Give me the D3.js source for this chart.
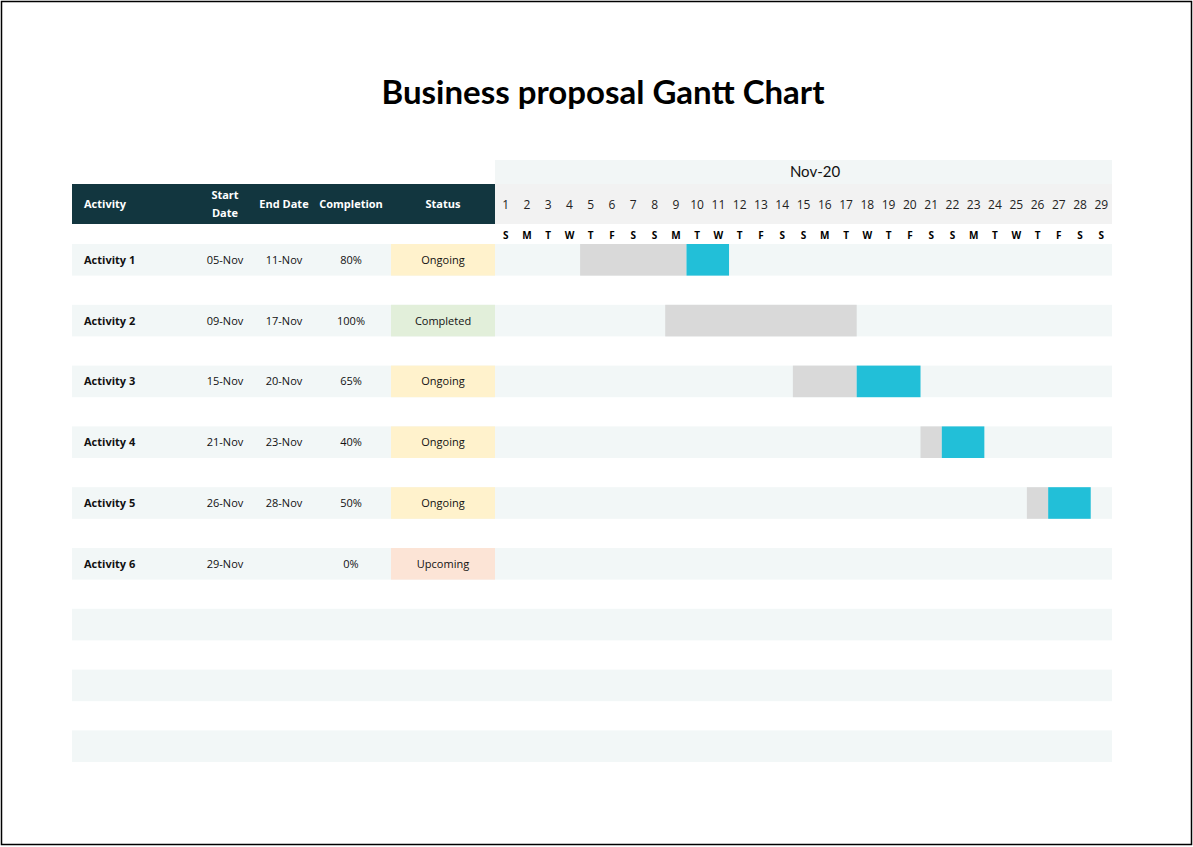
<!DOCTYPE html>
<html><head><meta charset="utf-8">
<script src="https://cdn.jsdelivr.net/npm/d3@7"></script>
<style>body{margin:0;background:#fff}</style>
</head><body>
<script>
// data
const activities = ['Activity 1', 'Activity 2', 'Activity 3', 'Activity 4', 'Activity 5', 'Activity 6']
const startDates = ['05-Nov', '09-Nov', '15-Nov', '21-Nov', '26-Nov', '29-Nov']
const endDates = ['11-Nov', '17-Nov', '20-Nov', '23-Nov', '28-Nov', '']
const completion = ['80%', '100%', '65%', '40%', '50%', '0%']
const statuses = ['Ongoing', 'Completed', 'Ongoing', 'Ongoing', 'Ongoing', 'Upcoming']
const startDay = [5, 9, 15, 21, 26, null]
const endDay = [11, 17, 20, 23, 28, null]
const doneUntil = [9, 17, 17, 21, 26, null] // last day drawn grey
const days = d3.range(1, 30)
const weekdays = ['S','M','T','W','T','F','S']
const emptyRows = 3

const W = 1193, H = 847
const svg = d3.select('body').append('svg').attr('width', W).attr('height', H)
svg.append('rect').attr('x', 1.5).attr('y', 1.5).attr('width', W - 3).attr('height', H - 4)
    .attr('fill', '#fff').attr('stroke', '#000').attr('stroke-width', 1.5)

svg.append('text').attr('x', 603).attr('y', 104).attr('text-anchor', 'middle')
    .style('font', 'bold 33px Lato').text('Business proposal Gantt Chart')

const font = '11px "Open Sans"'
const statusColor = {Ongoing: '#fff2cc', Completed: '#e2efda', Upcoming: '#fce4d6'}

// time scale
const x = d3.scaleLinear().domain([1, 30]).range([495, 1112])
const y = d3.scaleBand().domain(d3.range(activities.length + emptyRows)).range([244, 762]).paddingInner(0.48).paddingOuter(0)

// header
svg.append('rect').attr('x', 495).attr('y', 160).attr('width', 617).attr('height', 24).attr('fill', '#f2f6f6')
svg.append('text').attr('x', 815).attr('y', 177).attr('text-anchor', 'middle').style('font', '15px Lato').attr('fill', '#111').text('Nov-20')
svg.append('rect').attr('x', 72).attr('y', 184).attr('width', 423).attr('height', 40).attr('fill', '#12363f')
svg.append('rect').attr('x', 495).attr('y', 184).attr('width', 617).attr('height', 40).attr('fill', '#f2f2f2')

const cols = [
    {label: ['Activity'], x: 84, anchor: 'start'},
    {label: ['Start', 'Date'], x: 225},
    {label: ['End Date'], x: 284},
    {label: ['Completion'], x: 351},
    {label: ['Status'], x: 443}
]
cols.forEach(c => {
    const t = svg.append('text').attr('x', c.x).attr('text-anchor', c.anchor || 'middle')
        .style('font', 'bold 11px "Open Sans"').attr('fill', '#fff')
    c.label.forEach((l, i) => t.append('tspan').attr('x', c.x)
        .attr('y', c.label.length === 1 ? 208 : 199 + i * 18).text(l))
})

svg.selectAll('.day').data(days).join('text')
    .attr('x', d => x(d + 0.5)).attr('y', 209).attr('text-anchor', 'middle')
    .style('font', '12px "Open Sans"').attr('fill', '#222').text(d => d)
svg.selectAll('.wd').data(days).join('text')
    .attr('x', d => x(d + 0.5)).attr('y', 239).attr('text-anchor', 'middle')
    .style('font', 'bold 10px "Open Sans"').attr('fill', '#000').text((d, i) => weekdays[i % 7])

// rows
const rows = svg.selectAll('.row').data(y.domain()).join('g').attr('transform', i => `translate(0,${y(i)})`)
rows.append('rect').attr('x', 72).attr('width', 1040).attr('height', y.bandwidth()).attr('fill', '#f2f7f7')

const real = rows.filter(i => i < activities.length)
real.append('rect').attr('x', 391).attr('width', 104).attr('height', y.bandwidth()).attr('fill', i => statusColor[statuses[i]])
const cell = (xp, f, bold, anchor) => real.append('text').attr('x', xp).attr('y', y.bandwidth() / 2 + 4)
    .attr('text-anchor', anchor || 'middle').style('font', (bold ? 'bold ' : '') + font).attr('fill', '#111').text(f)
cell(84, i => activities[i], true, 'start')
cell(225, i => startDates[i])
cell(284, i => endDates[i])
cell(351, i => completion[i])
cell(443, i => statuses[i])

real.filter(i => startDay[i] != null).append('rect')
    .attr('x', i => x(startDay[i])).attr('width', i => x(doneUntil[i] + 1) - x(startDay[i]))
    .attr('height', y.bandwidth()).attr('fill', '#d9d9d9')
real.filter(i => startDay[i] != null && endDay[i] > doneUntil[i]).append('rect')
    .attr('x', i => x(doneUntil[i] + 1)).attr('width', i => x(endDay[i] + 1) - x(doneUntil[i] + 1))
    .attr('height', y.bandwidth()).attr('fill', '#22bfd8')
</script>
</body></html>
